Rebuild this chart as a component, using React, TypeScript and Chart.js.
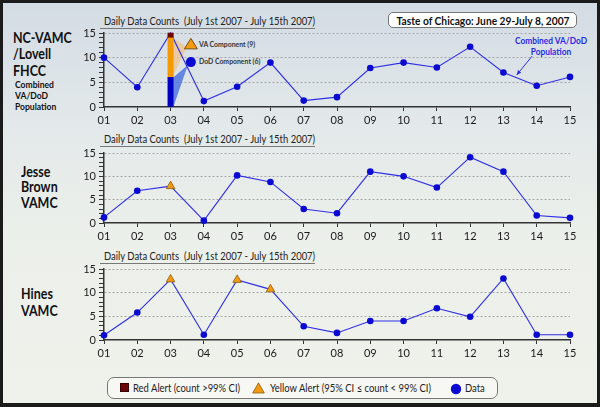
import React, { useEffect, useRef } from 'react';
import { Chart, registerables } from 'chart.js';

Chart.register(...registerables);

// ---------- data ----------
const days = ['01', '02', '03', '04', '05', '06', '07', '08', '09', '10', '11', '12', '13', '14', '15'];
const yTickLabels = [0, 5, 10, 15];

const ncValues = [10, 4, 15, 1.2, 4.1, 9, 1.3, 2, 7.9, 9, 8, 12.2, 7, 4.3, 6.1];
const ncDoD = [null, null, 6, null, null, null, null, null, null, null, null, null, null, null, null];
const ncVA = [null, null, 8, null, null, null, null, null, null, null, null, null, null, null, null];
const ncRed = [null, null, 1, null, null, null, null, null, null, null, null, null, null, null, null];
const ncHiddenPoints = [2];

const jbValues = [1.2, 6.9, 7.9, 0.5, 10.2, 8.8, 3.0, 2.1, 11.0, 10.0, 7.6, 14.1, 11.0, 1.6, 1.1];
const jbYellow = [2];

const hinesValues = [1.0, 5.8, 12.8, 1.1, 12.7, 10.7, 2.9, 1.5, 4.0, 4.0, 6.7, 4.9, 13.0, 1.1, 1.1];
const hinesYellow = [2, 4, 5];

// annotation anchors (in data units: [category index, value])
const peachWedge = [[2, 14], [2.49, 12.1], [2, 6.4]];
const blueWedge = [[2, 6], [2.52, 8.5], [2, 0]];
const vaMarker = [2.61, 12.7];
const dodMarker = [2.61, 9.1];
const arrowFrom = [12.86, 10.3];
const arrowTo = [12.4, 6.5];

// ---------- styles ----------
const FONT = 'Lato, "Open Sans", sans-serif';
const LINE = '#2e2ee6';
const BLUE = '#0a0ad2';
const ORANGE = '#f39a12';
const DARKRED = '#6b0606';

const annotPlugin = {
  id: 'ncAnnot',
  beforeDatasetsDraw(chart: any) {
    const { ctx, scales } = chart;
    const x = scales.x, y = scales.y;
    const half = 2.7;
    const poly = (pts: number[][], color: string) => {
      ctx.save();
      ctx.fillStyle = color;
      ctx.beginPath();
      pts.forEach((p, i) => {
        const px = x.getPixelForValue(p[0]) + (p[0] === 2 ? half : 0);
        const py = y.getPixelForValue(p[1]);
        if (i === 0) ctx.moveTo(px, py); else ctx.lineTo(px, py);
      });
      ctx.closePath();
      ctx.fill();
      ctx.restore();
    };
    poly(peachWedge, 'rgba(238,196,145,0.8)');
    poly(blueWedge, 'rgba(70,110,225,0.8)');
  },
  afterDatasetsDraw(chart: any) {
    const { ctx, scales } = chart;
    const x = scales.x, y = scales.y;
    ctx.save();
    // VA triangle
    const tx = x.getPixelForValue(vaMarker[0]);
    const ty = y.getPixelForValue(vaMarker[1]);
    ctx.fillStyle = ORANGE;
    ctx.strokeStyle = '#7a5010';
    ctx.lineWidth = 1;
    ctx.beginPath();
    ctx.moveTo(tx, ty - 6);
    ctx.lineTo(tx + 6.5, ty + 4.5);
    ctx.lineTo(tx - 6.5, ty + 4.5);
    ctx.closePath();
    ctx.fill();
    ctx.stroke();
    // DoD circle
    const cx = x.getPixelForValue(dodMarker[0]);
    const cy = y.getPixelForValue(dodMarker[1]);
    ctx.fillStyle = BLUE;
    ctx.beginPath();
    ctx.arc(cx, cy, 5, 0, Math.PI * 2);
    ctx.fill();
    // arrow
    const ax0 = x.getPixelForValue(arrowFrom[0]);
    const ay0 = y.getPixelForValue(arrowFrom[1]);
    const ax1 = x.getPixelForValue(arrowTo[0]);
    const ay1 = y.getPixelForValue(arrowTo[1]);
    ctx.strokeStyle = LINE;
    ctx.fillStyle = LINE;
    ctx.lineWidth = 1;
    ctx.beginPath();
    ctx.moveTo(ax0, ay0);
    ctx.lineTo(ax1, ay1);
    ctx.stroke();
    const ang = Math.atan2(ay1 - ay0, ax1 - ax0);
    ctx.beginPath();
    ctx.moveTo(ax1, ay1);
    ctx.lineTo(ax1 - 5 * Math.cos(ang - 0.45), ay1 - 5 * Math.sin(ang - 0.45));
    ctx.lineTo(ax1 - 5 * Math.cos(ang + 0.45), ay1 - 5 * Math.sin(ang + 0.45));
    ctx.closePath();
    ctx.fill();
    ctx.restore();
  },
};

type PanelProps = {
  values: number[];
  yellow: number[];
  top: number;
  height: number;
  withBar?: boolean;
};

function Panel({ values, yellow, top, height, withBar }: PanelProps) {
  const ref = useRef<HTMLCanvasElement>(null);
  useEffect(() => {
    if (!ref.current) return;
    const hidden = withBar ? ncHiddenPoints : [];
    const datasets: any[] = [
      {
        type: 'line',
        data: values,
        borderColor: LINE,
        borderWidth: 1.1,
        tension: 0,
        order: 2,
        clip: false,
        pointStyle: (c: any) => (yellow.includes(c.dataIndex) ? 'triangle' : 'circle'),
        pointRadius: (c: any) => (hidden.includes(c.dataIndex) ? 0 : yellow.includes(c.dataIndex) ? 5 : 3.3),
        pointBackgroundColor: (c: any) => (yellow.includes(c.dataIndex) ? ORANGE : BLUE),
        pointBorderColor: (c: any) => (yellow.includes(c.dataIndex) ? '#8a5a10' : BLUE),
        pointBorderWidth: (c: any) => (yellow.includes(c.dataIndex) ? 0.8 : 0),
      },
    ];
    if (withBar) {
      datasets.push(
        { type: 'bar', data: ncDoD, backgroundColor: '#0000c4', barThickness: 5.4, stack: 's', order: 1, clip: false },
        { type: 'bar', data: ncVA, backgroundColor: '#f39a00', barThickness: 5.4, stack: 's', order: 1, clip: false },
        { type: 'bar', data: ncRed, backgroundColor: DARKRED, barThickness: 5.4, stack: 's', order: 1, clip: false },
      );
    }
    const chart = new Chart(ref.current, {
      type: 'line',
      data: { labels: days, datasets },
      plugins: withBar ? [annotPlugin as any] : [],
      options: {
        animation: false,
        responsive: false,
        events: [],
        layout: { padding: { top: 13, right: 16, left: 0, bottom: 0 } },
        plugins: { legend: { display: false }, tooltip: { enabled: false }, title: { display: false } },
        scales: {
          x: {
            type: 'category',
            offset: false,
            afterFit: (s: any) => { s.height = 20; },
            grid: { drawOnChartArea: false, offset: false, tickLength: 4, tickColor: '#333', tickWidth: 1 },
            border: { color: '#333', width: 1.5 },
            ticks: { color: '#1a1a1a', font: { family: FONT, size: 11 }, padding: 3, autoSkip: false, maxRotation: 0 },
          },
          y: {
            min: 0,
            max: 15,
            stacked: true,
            afterFit: (s: any) => { s.width = 48; },
            ticks: {
              stepSize: 1,
              autoSkip: false,
              padding: 3,
              color: '#1a1a1a',
              font: { family: FONT, size: 11 },
              callback: (v: any) => (yTickLabels.includes(Number(v)) ? String(v) : ''),
            },
            grid: {
              color: (c: any) => (c.tick && c.tick.value > 0 && c.tick.value % 5 === 0 ? '#a8a8a8' : 'transparent'),
              tickColor: '#333',
              tickLength: 5,
              lineWidth: 1,
            },
            border: { color: '#333', width: 1.5, dash: [2, 2] },
          },
        },
      },
    } as any);
    return () => chart.destroy();
  }, []);
  return (
    <canvas
      ref={ref}
      width={530}
      height={height}
      style={{ position: 'absolute', left: 56, top, width: 530, height }}
    />
  );
}

function T({ x, y, size, bold, color, children, center, sx = 1 }: any) {
  return (
    <div
      style={{
        position: 'absolute',
        left: center ? x - 150 : x,
        width: center ? 300 : undefined,
        textAlign: center ? 'center' : 'left',
        top: y - size * 0.63,
        fontSize: size,
        lineHeight: `${size * 1.2}px`,
        fontWeight: bold ? 700 : 400,
        color: color || '#111',
        whiteSpace: 'nowrap',
        fontFamily: FONT,
        transform: `scaleX(${sx})`,
        transformOrigin: center ? 'center' : 'left',
      }}
    >
      {children}
    </div>
  );
}

function PanelTitle({ y }: { y: number }) {
  return (
    <>
      <T x={104} y={y} size={10.5} sx={0.9} color="#222">Daily Data Counts&nbsp; (July 1st 2007 - July 15th 2007)</T>
      <div style={{ position: 'absolute', left: 100, top: y + 6, width: 215, height: 1, background: '#777' }} />
    </>
  );
}

const BIG = 14.5;
const BIGSX = 0.86;

export default function App() {
  return (
    <div
      style={{
        position: 'absolute',
        left: 0,
        top: 0,
        width: 600,
        height: 407,
        boxSizing: 'border-box',
        border: '3px solid #1b1b1b',
        borderBottomWidth: 4,
        background: 'linear-gradient(180deg, #d3dbe4 0%, #e3e9ea 30%, #ecf0ea 60%, #eff2eb 100%)',
        overflow: 'hidden',
        fontFamily: FONT,
      }}
    >
      <div style={{ position: 'absolute', left: -3, top: -3, width: 600, height: 407 }}>
        <PanelTitle y={22} />
        <PanelTitle y={140} />
        <PanelTitle y={257} />

        {/* left labels */}
        <T x={13} y={38} size={BIG} sx={BIGSX} bold>NC-VAMC</T>
        <T x={13} y={54.5} size={BIG} sx={BIGSX} bold>/Lovell</T>
        <T x={13} y={71} size={BIG} sx={BIGSX} bold>FHCC</T>
        <T x={15} y={85} size={9.5} sx={0.9} bold>Combined</T>
        <T x={15} y={96} size={9.5} sx={0.9} bold>VA/DoD</T>
        <T x={15} y={106.5} size={9.5} sx={0.9} bold>Population</T>

        <T x={21} y={172} size={BIG} sx={BIGSX} bold>Jesse</T>
        <T x={21} y={187.5} size={BIG} sx={BIGSX} bold>Brown</T>
        <T x={21} y={203} size={BIG} sx={BIGSX} bold>VAMC</T>

        <T x={21} y={294} size={BIG} sx={BIGSX} bold>Hines</T>
        <T x={21} y={311} size={BIG} sx={BIGSX} bold>VAMC</T>

        {/* Taste of Chicago box */}
        <div
          style={{
            position: 'absolute', left: 388, top: 12, width: 189, height: 16, boxSizing: 'border-box',
            border: '1px solid #777', borderRadius: 5, background: '#fff',
          }}
        />
        <T x={482.5} y={20.5} size={11} sx={0.93} bold center>Taste of Chicago: June 29-July 8, 2007</T>

        {/* blue annotation */}
        <T x={551} y={41} size={9.5} sx={0.88} bold center color="#2a2ae6">Combined VA/DoD</T>
        <T x={551} y={52} size={9.5} sx={0.88} bold center color="#2a2ae6">Population</T>

        {/* component labels */}
        <T x={199} y={45} size={8} sx={0.86} bold color="#333">VA Component (9)</T>
        <T x={199} y={62} size={8} sx={0.86} bold color="#333">DoD Component (6)</T>

        <Panel values={ncValues} yellow={[]} top={20} height={107} withBar />
        <Panel values={jbValues} yellow={jbYellow} top={140} height={103} />
        <Panel values={hinesValues} yellow={hinesYellow} top={256} height={104} />

        {/* legend */}
        <div
          style={{
            position: 'absolute', left: 107, top: 377, width: 391, height: 22, boxSizing: 'border-box',
            border: '1px solid #777', borderRadius: 7, background: '#f7f8f4',
          }}
        />
        <div style={{ position: 'absolute', left: 120, top: 383, width: 9, height: 9, background: DARKRED, boxShadow: 'inset 0 0 0 1px #3a0000' }} />
        <T x={133} y={388.5} size={10.5} sx={0.9} color="#222">Red Alert (count &gt;99% CI)</T>
        <svg style={{ position: 'absolute', left: 252, top: 382 }} width={13} height={12}>
          <polygon points="6.5,0.8 12.3,11 0.7,11" fill={ORANGE} stroke="#8a5a10" strokeWidth={0.8} />
        </svg>
        <T x={270} y={388.5} size={10.5} sx={0.9} color="#222">Yellow Alert (95% CI ≤ count &lt; 99% CI)</T>
        <svg style={{ position: 'absolute', left: 450, top: 383 }} width={12} height={12}>
          <circle cx={6} cy={6} r={5.2} fill={BLUE} />
        </svg>
        <T x={465} y={388.5} size={10.5} sx={0.9} color="#222">Data</T>
      </div>
    </div>
  );
}
